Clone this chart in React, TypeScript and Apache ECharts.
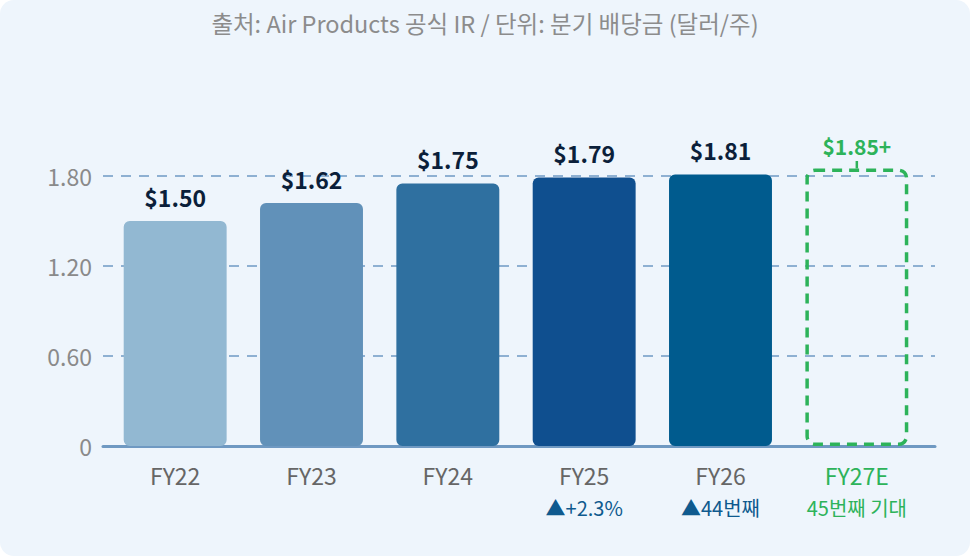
import React, { useEffect, useRef } from "react";
import * as echarts from "echarts";

const categories = ["FY22", "FY23", "FY24", "FY25", "FY26", "FY27E"];
const dividends = [1.5, 1.62, 1.75, 1.79, 1.81, 1.85];
const isEstimate = [false, false, false, false, false, true];
const subLabels = ["", "", "", "▲+2.3%", "▲44번째", "45번째 기대"];
const barColors = ["#92b8d2", "#6191b9", "#2f70a0", "#0f4f8f", "#005b8e", "rgba(0,0,0,0)"];
const yMin = 0;
const yMax = 1.8;
const yInterval = 0.6;
const connectorTop = 1.9;
const titleText = "출처: Air Products 공식 IR / 단위: 분기 배당금 (달러/주)";

const FONT = "'Noto Sans CJK KR', 'Noto Sans', sans-serif";
const GREEN = "#2db35a";
const SUB_BLUE = "#0f5a8e";

export default function App() {
  const ref = useRef<HTMLDivElement>(null);

  useEffect(() => {
    document.body.style.margin = "0";
    document.body.style.background = "#ffffff";
    if (!ref.current) return;
    const chart = echarts.init(ref.current, undefined, { renderer: "svg" });
    const estIdx = isEstimate.indexOf(true);

    const option: any = {
      animation: false,
      backgroundColor: "transparent",
      textStyle: { fontFamily: FONT },
      title: {
        text: titleText,
        left: "center",
        top: 6,
        textStyle: { fontFamily: FONT, fontSize: 23.5, fontWeight: "normal", color: "#8c8c8c" },
      },
      grid: [
        { left: 103, right: 35, top: 176, bottom: 110 },
        { left: 107, right: 45, top: 176, bottom: 110 },
      ],
      xAxis: [
        {
          type: "value",
          gridIndex: 0,
          min: 0,
          max: 1,
          axisLine: { show: true, lineStyle: { color: "#6f99c2", width: 3 } },
          axisTick: { show: false },
          axisLabel: { show: false },
          splitLine: { show: false },
        },
        {
          type: "category",
          gridIndex: 1,
          data: categories,
          axisLine: { show: false },
          axisTick: { show: false },
          axisLabel: {
            margin: 14,
            interval: 0,
            formatter: (value: string, idx: number) => {
              const sub = subLabels[idx];
              if (isEstimate[idx]) return `{ge|${value}}\n{gs|${sub}}`;
              return sub ? `{n|${value}}\n{s|${sub}}` : `{n|${value}}`;
            },
            rich: {
              n: { fontFamily: FONT, fontSize: 23, color: "#666666", lineHeight: 30 },
              s: { fontFamily: FONT, fontSize: 20, color: SUB_BLUE, lineHeight: 34 },
              ge: { fontFamily: FONT, fontSize: 23, color: GREEN, lineHeight: 30 },
              gs: { fontFamily: FONT, fontSize: 20, color: GREEN, lineHeight: 34 },
            },
          },
        },
      ],
      yAxis: [
        {
          type: "value",
          gridIndex: 0,
          min: yMin,
          max: yMax,
          interval: yInterval,
          axisLine: { show: false },
          axisTick: { show: false },
          axisLabel: {
            margin: 11,
            fontFamily: FONT,
            fontSize: 23,
            color: "#8a8a8a",
            formatter: (v: number) => (v === 0 ? "0" : v.toFixed(2)),
          },
          splitLine: {
            show: true,
            lineStyle: { color: "#8eb0d2", width: 2, type: [10, 8] },
          },
        },
        {
          type: "value",
          gridIndex: 1,
          min: yMin,
          max: yMax,
          interval: yInterval,
          show: false,
          splitLine: { show: false },
        },
      ],
      series: [
        {
          type: "bar",
          xAxisIndex: 1,
          yAxisIndex: 1,
          clip: false,
          barWidth: "75.5%",
          data: dividends.map((v, i) => ({
            value: v,
            itemStyle: isEstimate[i]
              ? {
                  color: barColors[i],
                  borderColor: GREEN,
                  borderWidth: 3.5,
                  borderType: [10, 7],
                  borderRadius: 8,
                }
              : { color: barColors[i], borderRadius: 6 },
            label: isEstimate[i]
              ? { distance: 12, color: GREEN, fontSize: 21 }
              : {},
          })),
          label: {
            show: true,
            position: "top",
            distance: 13,
            fontFamily: FONT,
            fontSize: 23,
            fontWeight: "bold",
            color: "#0b1f3a",
            formatter: (p: any) =>
              `$${Number(p.value).toFixed(2)}${isEstimate[p.dataIndex] ? "+" : ""}`,
          },
        },
        {
          type: "custom",
          xAxisIndex: 1,
          yAxisIndex: 1,
          clip: false,
          silent: true,
          z: 5,
          data: [[estIdx, dividends[estIdx], connectorTop]],
          renderItem: (_params: any, api: any) => {
            const p0 = api.coord([api.value(0), api.value(1)]);
            const p1 = api.coord([api.value(0), api.value(2)]);
            return {
              type: "line",
              shape: { x1: p0[0], y1: p0[1], x2: p1[0], y2: p1[1] },
              style: { stroke: GREEN, lineWidth: 2.5 },
            };
          },
        },
      ],
    };

    chart.setOption(option);
    return () => chart.dispose();
  }, []);

  return (
    <div
      ref={ref}
      style={{
        width: 970,
        height: 556,
        background: "#eef5fc",
        borderRadius: 14,
        overflow: "hidden",
      }}
    />
  );
}
